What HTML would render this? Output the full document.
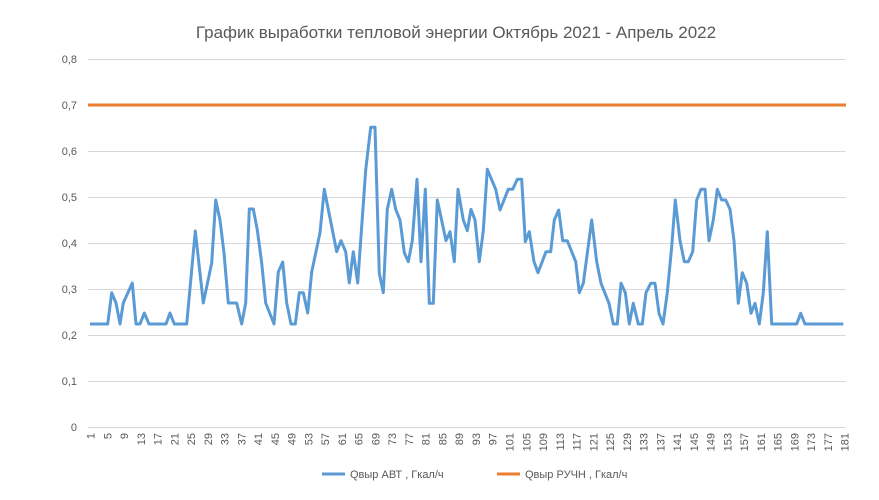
<!DOCTYPE html>
<html><head><meta charset="utf-8"><style>
body{margin:0;background:#fff;}
svg text{font-family:"Liberation Sans",sans-serif;fill:#595959;}
</style></head><body>
<svg width="879" height="495" xmlns="http://www.w3.org/2000/svg">
<rect width="879" height="495" fill="#fff"/>
<text x="456" y="38" text-anchor="middle" font-size="17">График выработки тепловой энергии Октябрь 2021 - Апрель 2022</text>
<g stroke="#d9d9d9" stroke-width="1">
<line x1="88" x2="846" y1="59.5" y2="59.5"/>
<line x1="88" x2="846" y1="105.5" y2="105.5"/>
<line x1="88" x2="846" y1="151.5" y2="151.5"/>
<line x1="88" x2="846" y1="197.5" y2="197.5"/>
<line x1="88" x2="846" y1="243.5" y2="243.5"/>
<line x1="88" x2="846" y1="289.5" y2="289.5"/>
<line x1="88" x2="846" y1="335.5" y2="335.5"/>
<line x1="88" x2="846" y1="381.5" y2="381.5"/>
<line x1="88" x2="846" y1="427.5" y2="427.5"/>
</g>
<g font-size="11" text-anchor="end">
<text x="77" y="63">0,8</text><text x="77" y="109">0,7</text><text x="77" y="155">0,6</text><text x="77" y="201">0,5</text><text x="77" y="247">0,4</text><text x="77" y="293">0,3</text><text x="77" y="339">0,2</text><text x="77" y="385">0,1</text><text x="77" y="431">0</text>
</g>
<g id="xl" font-size="11" text-anchor="end"></g>
<line x1="88" x2="846" y1="105" y2="105" stroke="#ed7d31" stroke-width="3"/>
<polyline fill="none" stroke="#5b9bd5" stroke-width="3" stroke-linejoin="round" points="90,324 107.7,324 111.7,292.7 116,303 120,324 123.3,303 132.3,283 136,324 140,324 144.3,313 149,324 166,324 170,313 174.3,324 186.7,324 195.3,231 203.3,303 211.7,263 215.7,200 220,220 224,253 228.3,303 236.7,303 241.7,324 245.7,303 249.3,209 253.3,209 257.3,230 261.7,263 265.7,303 274,324 278.3,272 282.7,262 286.7,303 291,324 295.3,324 299.3,292.7 303.3,292.7 307.7,313 311.7,272 320,232.7 324.3,189.3 336.7,251.7 341,240.7 345.7,251.7 349.3,283 353.3,251.7 357.7,283 365.7,170 370.7,127.3 375,127.3 379.3,273.3 383.3,292.7 387.3,209.3 391.7,189.3 395.7,209.3 400,220 404.3,252.7 408.3,261.7 412.3,240.7 417,179.3 421,261.7 425.3,189.3 429.3,303.3 433.3,303.3 437.3,200 446,240.7 450,231.7 454.3,261.7 458,189.3 463.3,220 467.3,230.7 471,209.3 475,220 479.3,261.7 483.3,230.7 487.3,169.3 495.7,189.3 500,210 508.3,189.3 512.7,189.3 517.3,179.3 521.7,179.3 525.3,241.7 529.3,231.7 534,261.7 538,272.7 546,251.7 550.7,251.7 554.3,220 558.7,210 562.7,240.7 567.3,240.7 575.7,261.7 579.3,292.7 583.3,283.3 591.7,220 596.7,261.7 601,283.3 609,303.3 613.3,324 617.3,324 621,283.3 625.3,292.7 629.3,324 633.3,303.3 638.3,324 642.3,324 646,292.7 650.7,283.3 655,283.3 659,313.3 663,324 667.3,292.7 671.7,246.7 675.3,200 680,240.7 684.3,261.7 688.3,261.7 692.7,251.7 696.7,200 701,189.3 705,189.3 709,240.7 713.3,220 717.3,189.3 721.7,200 725.7,200 730,209.3 734,240.7 738.3,303.3 742.3,272.7 746.7,283.3 751,313.3 755,303.3 759.3,324 763.3,292.7 767.3,231.7 771.7,324 796.7,324 800.7,313.3 805,324 843.3,324"/>
<line x1="322" x2="345" y1="474" y2="474" stroke="#5b9bd5" stroke-width="3"/>
<text x="350" y="478" font-size="11">Qвыр АВТ , Гкал/ч</text>
<line x1="497" x2="520" y1="474" y2="474" stroke="#ed7d31" stroke-width="3"/>
<text x="525" y="478" font-size="11">Qвыр РУЧН , Гкал/ч</text>
</svg>
<script>
var g=document.getElementById('xl'),s='';
for(var i=1;i<=181;i+=4){var x=90.5+(i-1)*4.19+4;s+='<text transform="translate('+x.toFixed(1)+',433) rotate(-90)">'+i+'</text>';}
g.innerHTML=s;
</script>
</body></html>
